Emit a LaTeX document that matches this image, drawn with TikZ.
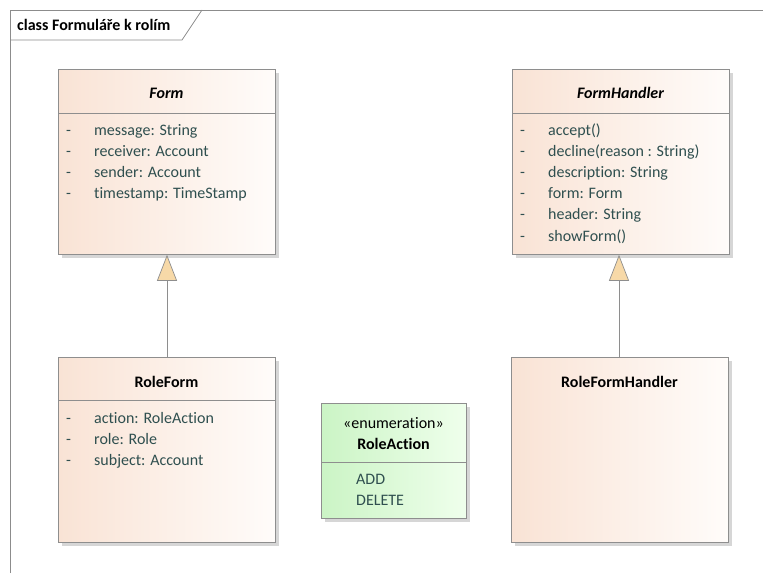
\documentclass[tikz,border=0pt]{standalone}
\usepackage{fontspec}
\setmainfont[Ligatures={NoCommon}]{Carlito}
\usetikzlibrary{arrows.meta,shadows}
\definecolor{peachL}{HTML}{F9E3D5}
\definecolor{peachR}{HTML}{FFFCFA}
\definecolor{greenL}{HTML}{CBF4C5}
\definecolor{greenR}{HTML}{EFFFEC}
\definecolor{boxline}{HTML}{8E8E8E}
\definecolor{attr}{HTML}{2F4F4F}
\definecolor{tipfill}{HTML}{F7D9A8}
\newcommand{\umlfont}{\fontsize{16}{18}\selectfont}
\tikzset{
  classbox/.style={draw=boxline, line width=0.8pt, left color=peachL, right color=peachR,
    anchor=north west, inner sep=0pt,
    drop shadow={shadow xshift=4pt, shadow yshift=-4pt, fill=black!16, opacity=1}},
  enumbox/.style={classbox, left color=greenL, right color=greenR},
  sep/.style={draw=boxline, line width=0.6pt},
  txt/.style={inner sep=0pt, text height=12.5pt, text depth=1.5pt},
  title/.style={txt, font=\umlfont\bfseries, text=black},
  ititle/.style={title, font=\umlfont\bfseries\itshape},
  attrtxt/.style={txt, font=\umlfont, text=attr, anchor=west},
  gen/.style={draw=boxline, line width=0.7pt,
    -{Triangle[open, fill=tipfill, width=20pt, length=26pt, line width=0.7pt]}},
  frameline/.style={draw=black!45, line width=0.7pt}
}
\begin{document}
\begin{tikzpicture}[x=1pt, y=-1pt]
\useasboundingbox (0,0) rectangle (763,573);
\fill[white] (0,0) rectangle (763,573);

% diagram frame with its name tab
\draw[frameline] (10,573) -- (10,10) -- (763,10);
\draw[frameline] (10,40) -- (182,40) -- (202,10);
\node[txt, anchor=west, font=\umlfont\bfseries] (frametitle) at (17,25) {class Formuláře k rolím};

% Form
\node[classbox, minimum width=217pt, minimum height=185pt] (form) at (58,69) {};
\draw[sep] (58,113) -- (275,113);
\node[ititle] (formT) at (166.5,93) {Form};
\foreach \y/\t in {130/{message: String},151/{receiver: Account},172/{sender: Account},193/{timestamp: TimeStamp}}{
  \node[attrtxt] at (66,\y) {-};
  \node[attrtxt] at (94,\y) {\t};
}

% FormHandler
\node[classbox, minimum width=217pt, minimum height=185pt] (handler) at (512,69) {};
\draw[sep] (512,113) -- (729,113);
\node[ititle] (handlerT) at (620.5,93) {FormHandler};
\foreach \y/\t in {130/{accept()},151/{decline(reason : String)},172/{description: String},193/{form: Form},214/{header: String},236/{showForm()}}{
  \node[attrtxt] at (520,\y) {-};
  \node[attrtxt] at (548,\y) {\t};
}

% RoleForm
\node[classbox, minimum width=217pt, minimum height=185pt] (roleform) at (58,357) {};
\draw[sep] (58,400) -- (275,400);
\node[title] (roleformT) at (166.5,382) {RoleForm};
\foreach \y/\t in {418/{action: RoleAction},439/{role: Role},460/{subject: Account}}{
  \node[attrtxt] at (66,\y) {-};
  \node[attrtxt] at (94,\y) {\t};
}

% RoleFormHandler
\node[classbox, minimum width=217pt, minimum height=185pt] (rolehandler) at (511,357) {};
\node[title] (rolehandlerT) at (619.5,382) {RoleFormHandler};

% RoleAction enumeration
\node[enumbox, minimum width=145pt, minimum height=115pt] (action) at (321,403) {};
\draw[sep] (321,462) -- (466,462);
\node[txt, font=\umlfont, text=black] (actionS) at (393.5,423) {«enumeration»};
\node[title] (actionT) at (393.5,444) {RoleAction};
\node[attrtxt] at (356,479) {ADD};
\node[attrtxt] at (356,500) {DELETE};

% generalizations
\draw[gen] (roleform.north -| 167,0) -- (form.south -| 167,0);
\draw[gen] (rolehandler.north -| 619,0) -- (handler.south -| 619,0);
\end{tikzpicture}
\end{document}
